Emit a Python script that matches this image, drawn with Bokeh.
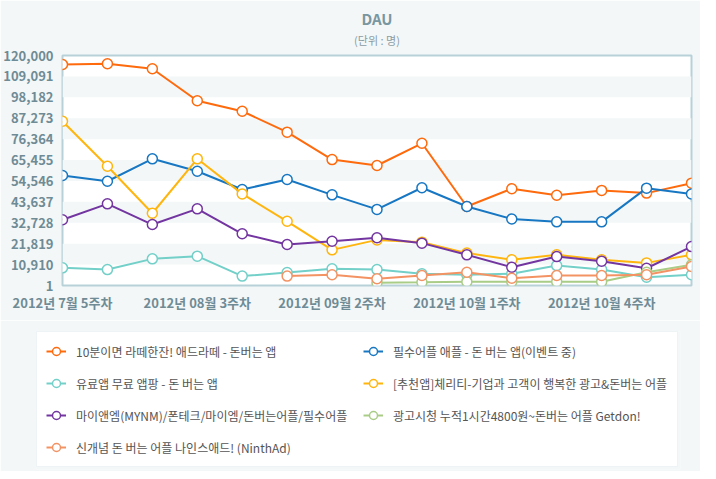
from bokeh.plotting import figure
from bokeh.models import Range1d, FixedTicker, Legend, LegendItem, Title
from bokeh.layouts import column
from bokeh.embed import file_html
from bokeh.resources import INLINE

nan = float("nan")

weeks = ["2012년 7월 5주차", "2012년 08월 1주차", "2012년 08월 2주차", "2012년 08월 3주차",
         "2012년 08월 4주차", "2012년 09월 1주차", "2012년 09월 2주차", "2012년 09월 3주차",
         "2012년 09월 4주차", "2012년 10월 1주차", "2012년 10월 2주차", "2012년 10월 3주차",
         "2012년 10월 4주차", "2012년 10월 5주차", "2012년 11월 1주차"]
x_tick_idx = [0, 3, 6, 9, 12]

y_ticks = [1, 10910, 21819, 32728, 43637, 54546, 65455, 76364, 87273, 98182, 109091, 120000]
y_tick_labels = ["1", "10,910", "21,819", "32,728", "43,637", "54,546", "65,455",
                 "76,364", "87,273", "98,182", "109,091", "120,000"]

names = [
    "10분이면 라떼한잔! 애드라떼 - 돈버는 앱",
    "필수어플 애플 - 돈 버는 앱(이벤트 중)",
    "유료앱 무료 앱팡 - 돈 버는 앱",
    "[추천앱]체리티-기업과 고객이 행복한 광고&돈버는 어플",
    "마이앤엠(MYNM)/폰테크/마이엠/돈버는어플/필수어플",
    "광고시청 누적1시간4800원~돈버는 어플 Getdon!",
    "신개념 돈 버는 어플 나인스애드! (NinthAd)",
]
colors = ["#ff6a0d", "#1777c2", "#72d0c9", "#ffb50d", "#7335a0", "#a9cc86", "#f39364"]

adlatte = [115300, 115700, 113100, 96400, 90900, 80000, 65700, 62600, 74200, 41200,
           50500, 47100, 49600, 48200, 53400]
apple = [57400, 54400, 66100, 59600, 50100, 55300, 47300, 39700, 51000, 41200,
         34700, 33200, 33200, 50800, 47800]
appang = [9200, 8300, 13900, 15300, 4900, 6800, 8700, 8300, 6100, 5600,
          6100, 10400, 8300, 4300, 5600]
charity = [85700, 62200, 37700, 66100, 47800, 33500, 18600, 23800, 22600, 16900,
           13400, 16000, 13400, 11800, 16000]
mynm = [34300, 42600, 31800, 40000, 27000, 21400, 23100, 24900, 22100, 16000,
        9500, 15100, 12700, 9000, 20300]
getdon = [nan, nan, nan, nan, nan, nan, nan, 1500, 1700, 2000,
          2000, 2000, 2000, 6900, 10800]
ninthad = [nan, nan, nan, nan, nan, 4900, 5600, 3500, 5200, 6900,
           3800, 5200, 5200, 5600, 9900]

series = [adlatte, apple, appang, charity, mynm, getdon, ninthad]
xs = list(range(len(weeks)))

BG = "#f3f7f8"
AX = "#6f8b95"

p = figure(width=700, height=320, output_backend="svg", toolbar_location=None,
           x_range=Range1d(0, len(weeks) - 1), y_range=Range1d(y_ticks[0], y_ticks[-1]),
           min_border_left=61, min_border_right=9, min_border_top=55, min_border_bottom=35,
           background_fill_color="white", border_fill_color=BG, title=None)
p.frame_align = False

p.outline_line_color = "#b8d1d9"
p.outline_line_width = 2

p.xgrid.visible = False
p.ygrid.grid_line_color = None
p.ygrid.band_fill_color = BG
p.ygrid.band_fill_alpha = 1

p.yaxis.ticker = FixedTicker(ticks=y_ticks)
p.yaxis.major_label_overrides = {t: l for t, l in zip(y_ticks, y_tick_labels)}
p.xaxis.ticker = FixedTicker(ticks=x_tick_idx)
p.xaxis.major_label_overrides = {i: weeks[i] for i in x_tick_idx}
for ax in (p.xaxis[0], p.yaxis[0]):
    ax.axis_line_color = None
    ax.major_tick_line_color = None
    ax.minor_tick_line_color = None
    ax.major_tick_out = 0
    ax.major_tick_in = 0
    ax.minor_tick_out = 0
    ax.major_label_standoff = 9
    ax.major_label_text_font = "Noto Sans CJK KR"
    ax.major_label_text_font_style = "bold"
    ax.major_label_text_font_size = "13px"
    ax.major_label_text_color = AX
p.xaxis.major_label_standoff = 7

for col, ys in zip(colors, series):
    p.line(xs, ys, line_color=col, line_width=2)
    p.scatter(xs, ys, size=10, marker="circle", fill_color="white",
              line_color=col, line_width=1.5)

p.add_layout(Title(text="(단위 : 명)", align="center", text_font="Noto Sans CJK KR",
                   text_font_size="11px", text_font_style="normal", text_color="#8a9ca3",
                   text_line_height=0.75, standoff=16), "above")
p.add_layout(Title(text="DAU", align="center", text_font="Noto Sans CJK KR",
                   text_font_size="15px", text_font_style="bold", text_color="#7a96a0",
                   standoff=-15), "above")

# legend panel (its own frame; the legend glyphs refer to the same series, kept out of view)
pl = figure(width=700, height=151, output_backend="svg", toolbar_location=None,
            x_range=Range1d(-2, -1), y_range=Range1d(-2, -1),
            x_axis_location=None, y_axis_location=None,
            min_border_left=36, min_border_right=20, min_border_top=11, min_border_bottom=2,
            background_fill_color=BG, border_fill_color=BG, title=None)
pl.frame_align = False
pl.outline_line_color = None
pl.grid.visible = False

items = []
for name, col, ys in zip(names, colors, series):
    r1 = pl.line(xs, ys, line_color=col, line_width=2)
    r2 = pl.scatter(xs, ys, size=10, marker="circle", fill_color="white",
                    line_color=col, line_width=1.5)
    items.append(LegendItem(label=name, renderers=[r1, r2]))

legend = Legend(items=items, location="top_left", orientation="horizontal", ncols=2,
                border_line_color="#dde8eb", border_line_width=1,
                background_fill_color="white", background_fill_alpha=1,
                label_text_font="Noto Sans CJK KR", label_text_font_size="12px",
                label_text_color="#555555", glyph_width=20, glyph_height=20,
                label_height=20, label_width=275, spacing=12, padding=9, margin=0,
                label_standoff=10)
pl.add_layout(legend)

layout = column(p, pl, spacing=0)

html = file_html(layout, INLINE)
html = html.replace("<body>", '<body style="background-color:#f3f7f8;">', 1)
open("out.html", "w").write(html)
